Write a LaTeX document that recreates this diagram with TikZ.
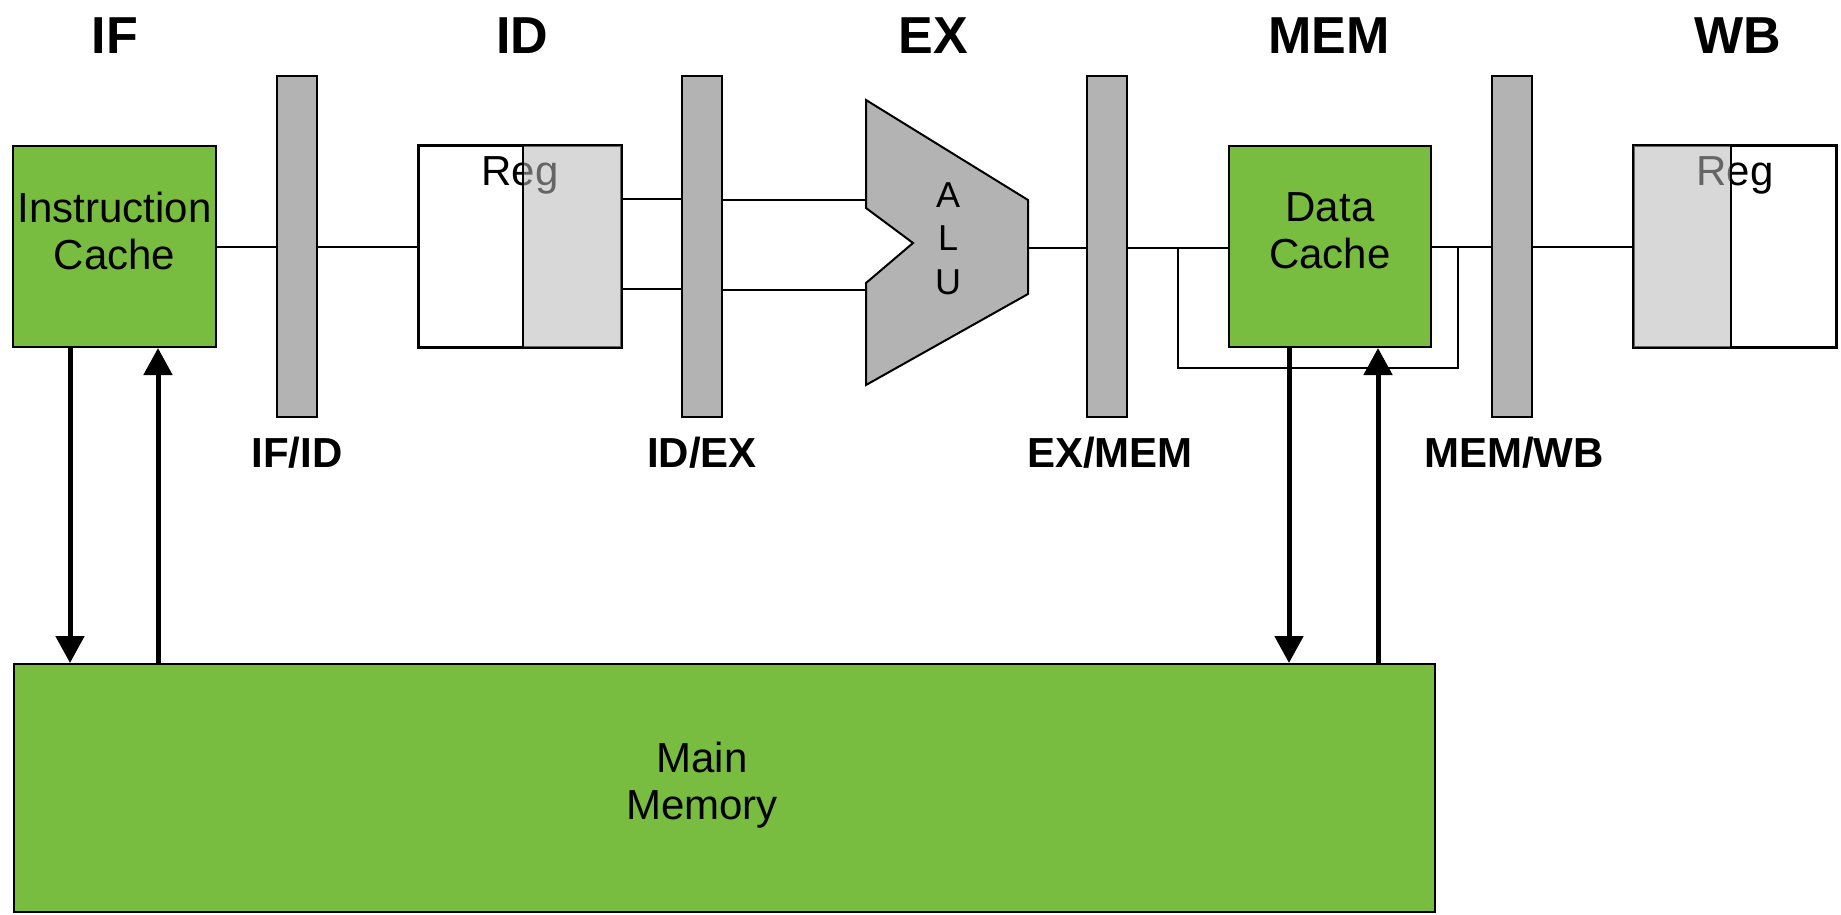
\documentclass[tikz,border=0pt]{standalone}
\usepackage{fontspec}
\setmainfont{Liberation Sans}
\usetikzlibrary{arrows.meta,calc}
\definecolor{cachegreen}{RGB}{120,188,64}
\definecolor{latchgray}{RGB}{179,179,179}
\definecolor{regshade}{RGB}{185,185,185}
\tikzset{
  unit/.style={draw=black, line width=2pt, fill=cachegreen, inner sep=0pt},
  unittext/.style={align=center, inner sep=0pt, font=\fontsize{42}{47}\selectfont},
  latch/.style={draw=black, line width=2pt, fill=latchgray, minimum width=40pt,
                minimum height=341pt, inner sep=0pt},
  stagelabel/.style={anchor=base, inner sep=0pt, font=\fontsize{52}{60}\selectfont\bfseries},
  latchlabel/.style={anchor=base, inner sep=0pt, font=\fontsize{42}{50}\selectfont\bfseries},
  wire/.style={line width=2pt},
  bus/.style={line width=5pt, -{Triangle[width=28pt,length=27pt]}},
  regfile/.style={draw=black, line width=2pt, fill=white, minimum width=202pt,
                  minimum height=201pt, inner sep=0pt},
  regtext/.style={anchor=base, inner sep=0pt, font=\fontsize{42}{47}\selectfont},
  regshadow/.style={fill=regshade, fill opacity=0.55},
  border/.style={draw=black, line width=2pt},
}
\begin{document}
\begin{tikzpicture}[x=1pt, y=-1pt]
\useasboundingbox (0,0) rectangle (1841,914);

% stage headings
\node[stagelabel] (lif)  at (115,53)  {IF};
\node[stagelabel] (lid)  at (522,53)  {ID};
\node[stagelabel] (lex)  at (933,53)  {EX};
\node[stagelabel] (lmem) at (1329,53) {MEM};
\node[stagelabel] (lwb)  at (1738,53) {WB};

% pipeline latches
\node[latch] (ifid)  at (297,246.5)  {};
\node[latch] (idex)  at (702,246.5)  {};
\node[latch] (exmem) at (1107,246.5) {};
\node[latch] (memwb) at (1512,246.5) {};
\node[latchlabel] (lifid)  at (297,467)  {IF/ID};
\node[latchlabel] (lidex)  at (702,467)  {ID/EX};
\node[latchlabel] (lexmem) at (1110,467) {EX/MEM};
\node[latchlabel] (lmemwb) at (1514,467) {MEM/WB};

% instruction cache
\node[unit, minimum width=203pt, minimum height=201pt] (ic) at (114.5,246.5) {};
\node[unittext] (ictext) at (114.5,231) {Instruction\\Cache};

% data cache
\node[unit, minimum width=202pt, minimum height=201pt] (dc) at (1330,246.5) {};
\node[unittext] (dctext) at (1330,231) {Data\\Cache};

% main memory
\node[unit, minimum width=1421pt, minimum height=248pt] (mm) at (724.5,788) {};
\node[unittext] (mmtext) at (702,785) {Main\\Memory};

% register file, read side (ID)
\node[regfile] (rfr) at (520,246.5) {};
\node[regtext] (rfrtext) at (520,185) {Reg};
\path[regshadow] ($(rfr.north west)+(105,0)$) rectangle (rfr.south east);
\draw[border] ($(rfr.north west)+(105,0)$) -- ($(rfr.south west)+(105,0)$);
\draw[border] (rfr.north west) rectangle (rfr.south east);

% register file, write side (WB)
\node[regfile] (rfw) at (1735,246.5) {};
\node[regtext] (rfwtext) at (1735,185) {Reg};
\path[regshadow] (rfw.north west) rectangle ($(rfw.south west)+(98,0)$);
\draw[border] ($(rfw.north west)+(98,0)$) -- ($(rfw.south west)+(98,0)$);
\draw[border] (rfw.north west) rectangle (rfw.south east);

% ALU
\coordinate (alutl) at (866,100);
\coordinate (alutr) at (1028,200);
\coordinate (alubr) at (1028,294);
\coordinate (alubl) at (866,385);
\coordinate (aluni) at (866,283);
\coordinate (alunp) at (913,243);
\coordinate (aluno) at (866,208);
\draw[line width=2pt, fill=latchgray] (alutl) -- (alutr) -- (alubr) -- (alubl)
  -- (aluni) -- (alunp) -- (aluno) -- cycle;
% anchor=base of a multi-line node sits on the last line's baseline
\node[align=center, anchor=base, inner sep=0pt, font=\fontsize{36}{43.5}\selectfont]
  (alutext) at (948,294) {A\\L\\U};
\coordinate (aluina) at (866,200);
\coordinate (aluinb) at (866,290);
\coordinate (aluout) at (1028,248);

% datapath wires
\draw[wire] (ic.east) -- (ic.east -| ifid.west);
\draw[wire] (ifid.east |- rfr.west) -- (rfr.west);
\draw[wire] (rfr.east |- 0,199) -- (idex.west |- 0,199);
\draw[wire] (rfr.east |- 0,289) -- (idex.west |- 0,289);
\draw[wire] (idex.east |- aluina) -- (aluina);
\draw[wire] (idex.east |- aluinb) -- (aluinb);
\draw[wire] (aluout) -- (exmem.west |- aluout);
\draw[wire] (exmem.east |- aluout) -- (dc.west |- aluout);
\draw[wire] (dc.east) -- (dc.east -| memwb.west);
\draw[wire] (memwb.east |- rfw.west) -- (rfw.west);

% bypass around the data cache
\coordinate (tapa) at (1178,247.5);
\coordinate (tapb) at (1458,246.5);
\draw[wire] (tapa) -- ++(0,120) -| (tapb);

% memory traffic
\coordinate (icdown) at ($(ic.south west)+(58,0)$);
\coordinate (icup)   at ($(ic.south west)+(146,0)$);
\coordinate (dcdown) at ($(dc.south west)+(61,0)$);
\coordinate (dcup)   at ($(dc.south west)+(150,0)$);
\draw[bus] (icdown) -- (icdown |- mm.north);
\draw[bus] (icup |- mm.north) -- (icup);
\draw[bus] (dcdown) -- (dcdown |- mm.north);
\draw[bus] (dcup |- mm.north) -- (dcup);
\end{tikzpicture}
\end{document}
